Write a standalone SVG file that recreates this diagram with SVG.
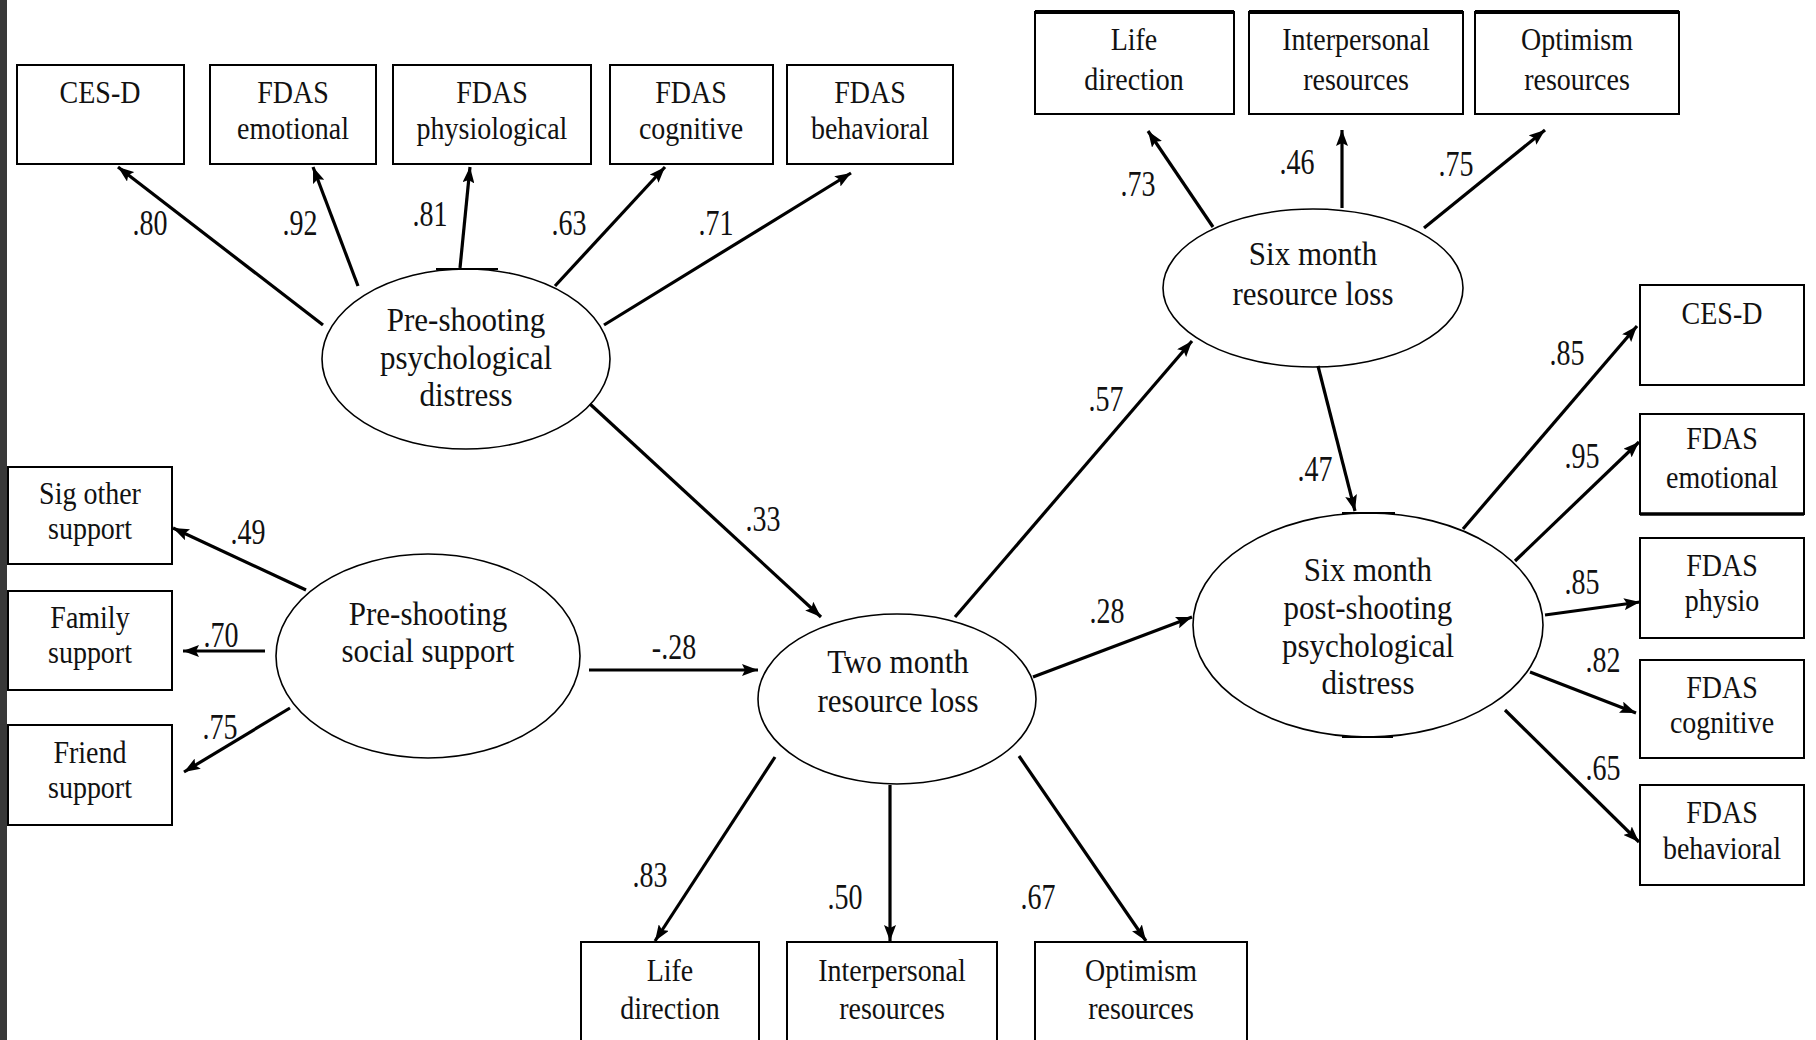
<svg xmlns="http://www.w3.org/2000/svg" width="1816" height="1040" viewBox="0 0 1816 1040">
<style>
.bx{fill:#fff;stroke:#000;stroke-width:2}
.el{fill:#fff;stroke:#000;stroke-width:1.6}
.bar{stroke:#000;stroke-width:2}
.t{font-family:"Liberation Serif","Times New Roman",serif;font-size:28px;fill:#111;text-anchor:middle;transform-box:fill-box;transform-origin:center;transform:scaleY(1.1)}
.et{font-family:"Liberation Serif","Times New Roman",serif;font-size:31px;fill:#111;text-anchor:middle;transform-box:fill-box;transform-origin:center;transform:scaleY(1.08)}
.lb{font-family:"Liberation Serif","Times New Roman",serif;font-size:28px;fill:#111;text-anchor:middle;transform-box:fill-box;transform-origin:center;transform:scaleY(1.3)}
.ar{stroke:#000;stroke-width:3.2;fill:none;marker-end:url(#ah)}
</style>
<defs>
<marker id="ah" viewBox="0 0 16 12" refX="16" refY="6" markerWidth="16" markerHeight="12" markerUnits="userSpaceOnUse" orient="auto"><path d="M0,0 L16,6 L0,12 L3,6 z" fill="#000"/></marker>
</defs>
<rect x="0" y="0" width="1816" height="1040" fill="#fff"/>
<rect x="0" y="0" width="7" height="1040" fill="#383838"/>

<!-- top-left indicator boxes -->
<g id="b_cesd1"><rect class="bx" x="17" y="65" width="167" height="99"/><text class="t" x="100" y="102">CES-D</text></g>
<g id="b_emo1"><rect class="bx" x="210" y="65" width="166" height="99"/><text class="t" x="293" y="102">FDAS</text><text class="t" x="293" y="138">emotional</text></g>
<g id="b_phys1"><rect class="bx" x="393" y="65" width="198" height="99"/><text class="t" x="492" y="102">FDAS</text><text class="t" x="492" y="138">physiological</text></g>
<g id="b_cog1"><rect class="bx" x="610" y="65" width="163" height="99"/><text class="t" x="691" y="102">FDAS</text><text class="t" x="691" y="138">cognitive</text></g>
<g id="b_beh1"><rect class="bx" x="787" y="65" width="166" height="99"/><text class="t" x="870" y="102">FDAS</text><text class="t" x="870" y="138">behavioral</text></g>

<!-- top-right resource boxes -->
<g id="b_life6"><rect class="bx" x="1035" y="12" width="199" height="102"/><line x1="1035" y1="12" x2="1234" y2="12" stroke="#000" stroke-width="4"/><text class="t" x="1134" y="49">Life</text><text class="t" x="1134" y="89">direction</text></g>
<g id="b_int6"><rect class="bx" x="1249" y="12" width="214" height="102"/><line x1="1249" y1="12" x2="1463" y2="12" stroke="#000" stroke-width="4"/><text class="t" x="1356" y="49">Interpersonal</text><text class="t" x="1356" y="89">resources</text></g>
<g id="b_opt6"><rect class="bx" x="1475" y="12" width="204" height="102"/><line x1="1475" y1="12" x2="1679" y2="12" stroke="#000" stroke-width="4"/><text class="t" x="1577" y="49">Optimism</text><text class="t" x="1577" y="89">resources</text></g>

<!-- right indicator boxes -->
<g id="b_cesd6"><rect class="bx" x="1640" y="285" width="164" height="100"/><text class="t" x="1722" y="323">CES-D</text></g>
<g id="b_emo6"><rect class="bx" x="1640" y="414" width="164" height="100"/><line x1="1640" y1="514" x2="1804" y2="514" stroke="#000" stroke-width="3.5"/><text class="t" x="1722" y="448">FDAS</text><text class="t" x="1722" y="487">emotional</text></g>
<g id="b_phys6"><rect class="bx" x="1640" y="538" width="164" height="100"/><text class="t" x="1722" y="575">FDAS</text><text class="t" x="1722" y="610">physio</text></g>
<g id="b_cog6"><rect class="bx" x="1640" y="660" width="164" height="98"/><text class="t" x="1722" y="697">FDAS</text><text class="t" x="1722" y="732">cognitive</text></g>
<g id="b_beh6"><rect class="bx" x="1640" y="785" width="164" height="100"/><text class="t" x="1722" y="822">FDAS</text><text class="t" x="1722" y="858">behavioral</text></g>

<!-- left support boxes -->
<g id="b_sig"><rect class="bx" x="8" y="467" width="164" height="97"/><text class="t" x="90" y="503">Sig other</text><text class="t" x="90" y="538">support</text></g>
<g id="b_fam"><rect class="bx" x="8" y="591" width="164" height="99"/><text class="t" x="90" y="627">Family</text><text class="t" x="90" y="662">support</text></g>
<g id="b_fri"><rect class="bx" x="8" y="725" width="164" height="100"/><text class="t" x="90" y="762">Friend</text><text class="t" x="90" y="797">support</text></g>

<!-- bottom resource boxes -->
<g id="b_life2"><rect class="bx" x="581" y="942" width="178" height="110"/><text class="t" x="670" y="980">Life</text><text class="t" x="670" y="1018">direction</text></g>
<g id="b_int2"><rect class="bx" x="787" y="942" width="210" height="110"/><text class="t" x="892" y="980">Interpersonal</text><text class="t" x="892" y="1018">resources</text></g>
<g id="b_opt2"><rect class="bx" x="1035" y="942" width="212" height="110"/><text class="t" x="1141" y="980">Optimism</text><text class="t" x="1141" y="1018">resources</text></g>

<!-- latent variables -->
<g id="n_ppd"><ellipse class="el" cx="466" cy="359" rx="144" ry="90"/><line class="bar" x1="436" y1="269" x2="498" y2="269"/><text class="et" x="466" y="330">Pre-shooting</text><text class="et" x="466" y="368">psychological</text><text class="et" x="466" y="405">distress</text></g>
<g id="n_pss"><ellipse class="el" cx="428" cy="656" rx="152" ry="102"/><text class="et" x="428" y="624">Pre-shooting</text><text class="et" x="428" y="661">social support</text></g>
<g id="n_tm"><ellipse class="el" cx="897" cy="699" rx="139" ry="85"/><text class="et" x="898" y="672">Two month</text><text class="et" x="898" y="711">resource loss</text></g>
<g id="n_smrl"><ellipse class="el" cx="1313" cy="288" rx="150" ry="79"/><text class="et" x="1313" y="264">Six month</text><text class="et" x="1313" y="304">resource loss</text></g>
<g id="n_smpd"><ellipse class="el" cx="1368" cy="625" rx="175" ry="112"/><line class="bar" x1="1342" y1="513" x2="1395" y2="513" stroke-width="4"/><line class="bar" x1="1342" y1="737" x2="1393" y2="737" stroke-width="4"/><text class="et" x="1368" y="580">Six month</text><text class="et" x="1368" y="618">post-shooting</text><text class="et" x="1368" y="656">psychological</text><text class="et" x="1368" y="693">distress</text></g>

<!-- connectors -->
<g id="connectors">
<line class="ar" x1="323" y1="325" x2="118" y2="167"/>
<line class="ar" x1="358" y1="286" x2="313" y2="167"/>
<line class="ar" x1="460" y1="268" x2="470" y2="167"/>
<line class="ar" x1="555" y1="286" x2="665" y2="167"/>
<line class="ar" x1="604" y1="325" x2="851" y2="173"/>
<line class="ar" x1="306" y1="590" x2="173" y2="528"/>
<line class="ar" x1="265" y1="651" x2="183" y2="651"/>
<line class="ar" x1="290" y1="708" x2="184" y2="772"/>
<line class="ar" x1="589" y1="670" x2="758" y2="670"/>
<line class="ar" x1="590" y1="404" x2="821" y2="617"/>
<line class="ar" x1="955" y1="617" x2="1192" y2="341"/>
<line class="ar" x1="1033" y1="677" x2="1192" y2="617"/>
<line class="ar" x1="775" y1="757" x2="655" y2="941"/>
<line class="ar" x1="890" y1="785" x2="890" y2="941"/>
<line class="ar" x1="1019" y1="756" x2="1146" y2="941"/>
<line class="ar" x1="1213" y1="227" x2="1148" y2="131"/>
<line class="ar" x1="1342" y1="208" x2="1342" y2="130"/>
<line class="ar" x1="1424" y1="228" x2="1545" y2="130"/>
<line class="ar" x1="1318" y1="366" x2="1355" y2="511"/>
<line class="ar" x1="1463" y1="529" x2="1637" y2="326"/>
<line class="ar" x1="1515" y1="561" x2="1639" y2="442"/>
<line class="ar" x1="1545" y1="615" x2="1640" y2="602"/>
<line class="ar" x1="1530" y1="672" x2="1636" y2="713"/>
<line class="ar" x1="1505" y1="710" x2="1639" y2="842"/>
<text class="lb" x="150" y="232">.80</text>
<text class="lb" x="300" y="232">.92</text>
<text class="lb" x="430" y="223">.81</text>
<text class="lb" x="569" y="232">.63</text>
<text class="lb" x="716" y="232">.71</text>
<text class="lb" x="248" y="541">.49</text>
<text class="lb" x="221" y="644">.70</text>
<text class="lb" x="220" y="736">.75</text>
<text class="lb" x="674" y="656">-.28</text>
<text class="lb" x="763" y="528">.33</text>
<text class="lb" x="1106" y="408">.57</text>
<text class="lb" x="1107" y="620">.28</text>
<text class="lb" x="650" y="884">.83</text>
<text class="lb" x="845" y="906">.50</text>
<text class="lb" x="1038" y="906">.67</text>
<text class="lb" x="1138" y="193">.73</text>
<text class="lb" x="1297" y="171">.46</text>
<text class="lb" x="1456" y="173">.75</text>
<text class="lb" x="1315" y="478">.47</text>
<text class="lb" x="1567" y="362">.85</text>
<text class="lb" x="1582" y="465">.95</text>
<text class="lb" x="1582" y="591">.85</text>
<text class="lb" x="1603" y="669">.82</text>
<text class="lb" x="1603" y="777">.65</text>
</g>
</svg>
